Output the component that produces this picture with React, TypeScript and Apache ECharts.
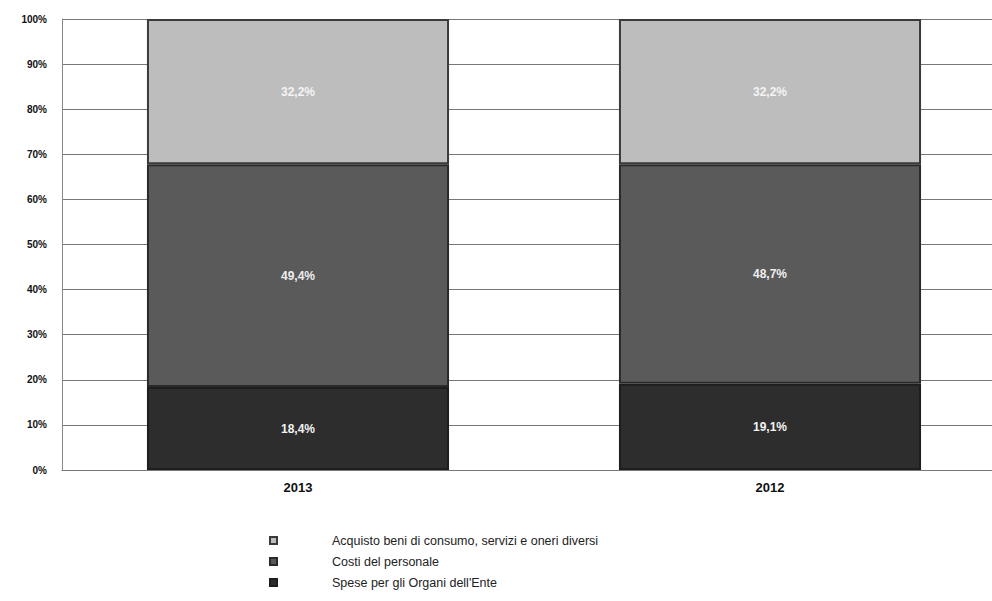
import React, { useEffect, useRef } from "react";
import * as echarts from "echarts";

const categories = ["2013", "2012"];
const speseOrgani = [18.4, 19.1];
const costiPersonale = [49.4, 48.7];
const acquistoBeni = [32.2, 32.2];
const seriesNames = [
  "Acquisto beni di consumo, servizi e oneri diversi",
  "Costi del personale",
  "Spese per gli Organi dell'Ente",
];

const fmt = (v: number) => v.toFixed(1).replace(".", ",") + "%";

export default function App() {
  const ref = useRef<HTMLDivElement>(null);
  useEffect(() => {
    if (!ref.current) return;
    const chart = echarts.init(ref.current, null, { renderer: "svg" });
    const label = (color: string) => ({
      show: true,
      position: "inside",
      color,
      fontWeight: "bold",
      fontSize: 12,
      fontFamily: "Arial, Liberation Sans, sans-serif",
      formatter: (p: any) => fmt(p.value),
    });
    chart.setOption({
      animation: false,
      backgroundColor: "#fff",
      grid: {
        left: 62,
        width: 944,
        top: 19,
        bottom: 131,
        outerBoundsMode: "none",
        containLabel: false,
      },
      legend: {
        orient: "vertical",
        left: 264,
        top: 529,
        itemWidth: 7,
        itemHeight: 7,
        itemGap: 8,
        icon: "rect",
        data: seriesNames,
        textStyle: {
          fontSize: 12.5,
          color: "#222",
          fontFamily: "Arial, Liberation Sans, sans-serif",
          padding: [0, 0, 0, 50],
        },
      },
      xAxis: {
        type: "category",
        data: categories,
        axisTick: { show: false },
        axisLine: { lineStyle: { color: "#777", width: 1 } },
        axisLabel: {
          margin: 11,
          fontWeight: "bold",
          fontSize: 13,
          color: "#111",
          fontFamily: "Arial, Liberation Sans, sans-serif",
        },
      },
      yAxis: {
        type: "value",
        min: 0,
        max: 100,
        interval: 10,
        axisLine: { show: true, lineStyle: { color: "#888" } },
        axisTick: { show: false },
        splitLine: { lineStyle: { color: "#777", width: 1 } },
        axisLabel: {
          formatter: "{value}%",
          margin: 15,
          fontWeight: "bold",
          fontSize: 10,
          color: "#111",
          fontFamily: "Arial, Liberation Sans, sans-serif",
        },
      },
      series: [
        {
          name: seriesNames[2],
          type: "bar",
          stack: "tot",
          barWidth: "64%",
          data: speseOrgani,
          itemStyle: { color: "#2d2d2d", borderColor: "#1e1e1e", borderWidth: 2 },
          label: label("#f2f2f2"),
        },
        {
          name: seriesNames[1],
          type: "bar",
          stack: "tot",
          barWidth: "64%",
          data: costiPersonale,
          itemStyle: { color: "#5a5a5a", borderColor: "#2a2a2a", borderWidth: 2 },
          label: label("#eeeeee"),
        },
        {
          name: seriesNames[0],
          type: "bar",
          stack: "tot",
          barWidth: "64%",
          data: acquistoBeni,
          itemStyle: { color: "#bdbdbd", borderColor: "#3a3a3a", borderWidth: 2 },
          label: label("#f4f4f4"),
        },
      ],
    });
    return () => chart.dispose();
  }, []);
  return (
    <div
      ref={ref}
      style={{ position: "fixed", left: 0, top: 0, width: 992, height: 601 }}
    />
  );
}
